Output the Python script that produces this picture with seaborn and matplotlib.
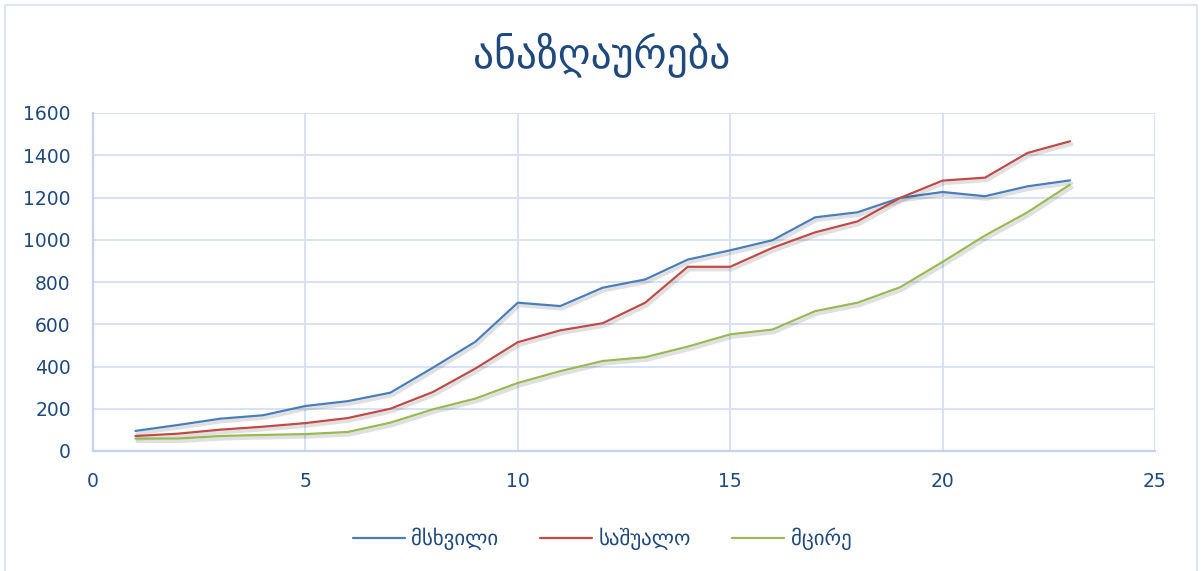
import numpy as np
import pandas as pd
import matplotlib
matplotlib.use("Agg")
import matplotlib.pyplot as plt
import matplotlib.patheffects as pe
from matplotlib.patches import Rectangle
import seaborn as sns

x_vals = list(range(1, 24))
large = [95, 123, 153, 169, 213, 236, 276, 394, 517, 702, 686, 773, 812, 906, 950, 998, 1106, 1130, 1198, 1226, 1206, 1253, 1281]
medium = [71, 82, 101, 115, 132, 156, 200, 279, 390, 515, 571, 605, 702, 872, 872, 962, 1035, 1087, 1198, 1280, 1294, 1411, 1466]
small = [59, 59, 71, 76, 80, 90, 134, 197, 248, 322, 378, 426, 444, 494, 552, 575, 662, 702, 775, 895, 1020, 1130, 1261]
series_names = ["მსხვილი", "საშუალო", "მცირე"]
title = "ანაზღაურება"

df = pd.concat([
    pd.DataFrame({"x": x_vals, "y": vals, "series": name})
    for name, vals in zip(series_names, [large, medium, small])
])

sns.set_theme(style="white")
plt.rcParams["font.family"] = ["DejaVu Sans"]

text_color = "#1f497d"
grid_color = "#d6e2f2"
palette = {series_names[0]: "#4a7ebb", series_names[1]: "#be4b48", series_names[2]: "#98b954"}

fig = plt.figure(figsize=(12.04, 5.71), dpi=100)
ax = fig.add_axes([93 / 1204, 1 - 451 / 571, (1155 - 93) / 1204, (451 - 113) / 571])

sns.lineplot(data=df, x="x", y="y", hue="series", palette=palette, ax=ax,
             linewidth=1.6, legend=True)
for line in ax.get_lines():
    line.set_path_effects([pe.SimpleLineShadow(offset=(1.2, -2.0), shadow_color="black", alpha=0.12, linewidth=2.6), pe.Normal()])

ax.set_xlim(0, 25)
ax.set_ylim(0, 1600)
ax.set_xticks([0, 5, 10, 15, 20, 25])
ax.set_yticks(range(0, 1601, 200))
ax.grid(True, color=grid_color, linewidth=1.4)
for side, sp in ax.spines.items():
    sp.set_visible(side in ("left", "bottom"))
    sp.set_color("#c3d4ea")
    sp.set_linewidth(1.6)
ax.tick_params(axis="y", colors=text_color, labelsize=13.5, length=0, pad=16)
ax.tick_params(axis="x", colors=text_color, labelsize=13.5, length=0, pad=15)
ax.set_xlabel("")
ax.set_ylabel("")

fig.text(0.5, 1 - 55 / 571, title, ha="center", va="center", fontsize=30, color=text_color)

leg = ax.legend(loc="center", bbox_to_anchor=(0.5, 1 - 539 / 571), bbox_transform=fig.transFigure,
                ncol=3, frameon=False, fontsize=15, handlelength=2.5, columnspacing=2.0, handletextpad=0.3)
for t in leg.get_texts():
    t.set_color(text_color)
for h in leg.get_lines():
    h.set_path_effects([])
    h.set_linewidth(1.6)

border = Rectangle((5 / 1204, -0.02), 1 - 12 / 1204, 1.02 - 5 / 571, transform=fig.transFigure,
                   fill=False, edgecolor="#dce6f2", linewidth=1.5)
fig.patches.append(border)

fig.savefig("out.png", dpi=100)
